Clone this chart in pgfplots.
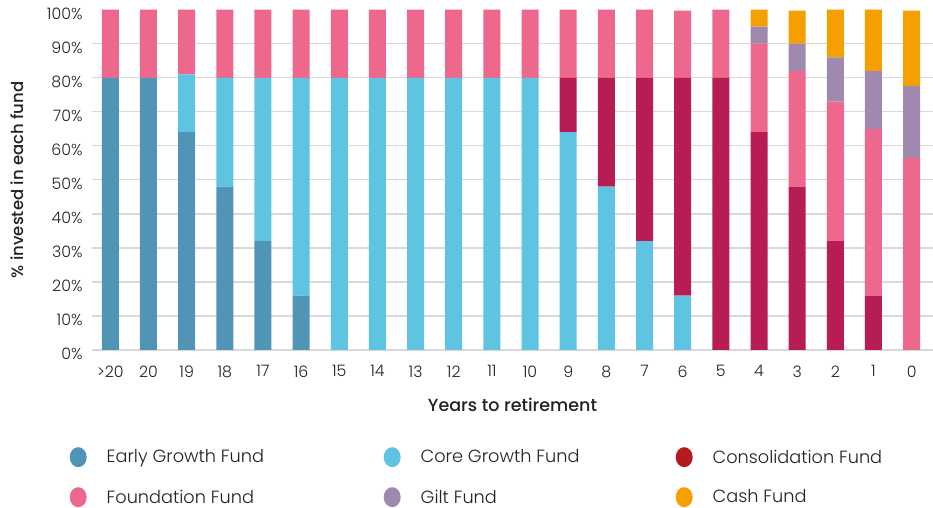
\documentclass[border=0pt]{standalone}
\usepackage{fontspec}
\setmainfont{Poppins Light}
\newfontfamily\labfont{Poppins Medium}
\usepackage{pgfplots}
\usepackage{pgfplotstable}
\pgfplotsset{compat=1.18}
\definecolor{early}{HTML}{5095B5}
\definecolor{core}{HTML}{5EC4E1}
\definecolor{cons}{HTML}{B71C54}
\definecolor{consleg}{HTML}{B51A1F}
\definecolor{found}{HTML}{EE688D}
\definecolor{gilt}{HTML}{A089AE}
\definecolor{cash}{HTML}{F5A000}
\definecolor{txt}{HTML}{222222}
\definecolor{gridc}{HTML}{D9D9D9}
\pgfplotstableread{
x early core cons found gilt cash
0 80 0 0 20 0 0
1 80 0 0 20 0 0
2 64 17 0 19 0 0
3 48 32 0 20 0 0
4 32 48 0 20 0 0
5 16 64 0 20 0 0
6 0 80 0 20 0 0
7 0 80 0 20 0 0
8 0 80 0 20 0 0
9 0 80 0 20 0 0
10 0 80 0 20 0 0
11 0 80 0 20 0 0
12 0 64 16 20 0 0
13 0 48 32 20 0 0
14 0 32 48 20 0 0
15 0 16 64 19.7 0 0
16 0 0 80 20 0 0
17 0 0 64 26 5 5
18 0 0 48 34 8 9.7
19 0 0 32 41 13 14
20 0 0 16 49 17 18
21 0 0 0 56.4 21.2 22.1
}\data
\begin{document}
\begin{tikzpicture}
\path[use as bounding box] (0,0) rectangle (933bp,508bp);
\begin{axis}[
  at={(92bp,158bp)}, anchor=south west,
  scale only axis, width=841bp, height=340.3bp,
  ybar stacked, bar width=17bp,
  xmin=-0.48, xmax=21.56, ymin=0, ymax=100,
  axis line style={draw=none},
  xtick={0,...,21},
  xticklabels={>20,20,19,18,17,16,15,14,13,12,11,10,9,8,7,6,5,4,3,2,1,0},
  ytick={0,10,...,90}, extra y ticks={100}, extra y tick style={grid=none},
  yticklabel={\pgfmathprintnumber{\tick}\%},
  /pgf/number format/assume math mode=true,
  major tick length=0pt,
  ymajorgrids, grid style={gridc, line width=1.3bp},
  tick label style={font=\fontsize{15.8bp}{18bp}\selectfont, text=txt},
  xticklabel style={yshift=-12bp},
  yticklabel style={xshift=-6bp, yshift=-4bp},
  every axis y label/.style={at={(axis description cs:-0.0892,0.5)}, rotate=90, anchor=center, font=\labfont\fontsize{16.5bp}{19bp}\selectfont, text=txt},
  every axis x label/.style={at={(axis description cs:0.5,-0.1616)}, anchor=center, font=\labfont\fontsize{17.5bp}{19bp}\selectfont, text=txt},
  ylabel={\% invested in each fund},
  xlabel={Years to retirement},
  legend columns=3,
  legend cell align=left,
  legend image code/.code={\path[draw=none,fill=none] (0,-10bp) rectangle (37bp,10bp); \fill[#1] (8.5bp,0bp) ellipse (8.5bp and 10bp);},
  legend style={at={(axis description cs:-0.02675,-0.285)}, anchor=north west, draw=none, fill=none, inner sep=0pt, column sep=0pt, row sep=20bp, nodes={inner sep=0pt, text=txt}, font=\fontsize{17.7bp}{19bp}\selectfont},
]
\addplot[fill=early, draw=none] table[x=x, y=early] {\data};
\addlegendentry{\makebox[277bp][l]{Early Growth Fund}}
\addplot[fill=core, draw=none] table[x=x, y=core] {\data};
\addlegendentry{\makebox[255bp][l]{Core Growth Fund}}
\addplot[fill=cons, draw=none, legend image post style={fill=consleg}] table[x=x, y=cons] {\data};
\addlegendentry{Consolidation Fund}
\addplot[fill=found, draw=none] table[x=x, y=found] {\data};
\addlegendentry{\makebox[277bp][l]{Foundation Fund}}
\addplot[fill=gilt, draw=none] table[x=x, y=gilt] {\data};
\addlegendentry{\makebox[255bp][l]{Gilt Fund}}
\addplot[fill=cash, draw=none] table[x=x, y=cash] {\data};
\addlegendentry{Cash Fund}
\end{axis}
\end{tikzpicture}
\end{document}
